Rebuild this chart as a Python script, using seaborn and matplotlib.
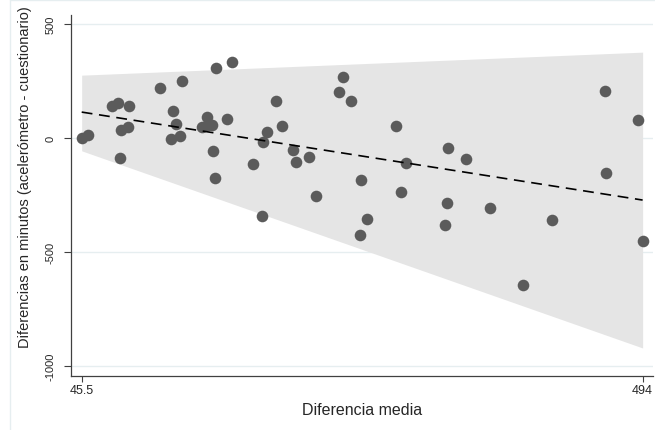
import matplotlib
matplotlib.use("Agg")
import matplotlib.pyplot as plt
from matplotlib.lines import Line2D
import seaborn as sns
import pandas as pd

# ---- data ----
media = [45.5, 50.5, 69.7, 74.5, 83.3, 76.9, 82.5, 76.1, 108.1, 118.5,
         120.9, 116.9, 124.1, 125.7, 152.9, 165.7, 145.7, 141.7, 146.5, 149.7,
         150.5, 152.1, 161.7, 182.5, 189.6, 190.4, 193.6, 200.8, 205.6, 214.4,
         216.8, 227.2, 232.8, 251.2, 254.4, 260.8, 268.8, 268.0, 273.6, 296.8,
         300.8, 304.8, 335.9, 337.5, 338.3, 352.7, 371.9, 398.3, 421.5, 463.9,
         464.7, 490.3, 494.0]
diferencia = [2, 13, 140, 154, 140, 35, 48, -88, 219, 118,
              61, -4, 9, 250, 307, 333, 92, 48, 57, 57,
              -57, -175, 83, -114, -342, -18, 26, 162, 53, -53,
              -105, -83, -254, 202, 268, 162, -184, -425, -355, 53,
              -237, -110, -382, -285, -44, -92, -307, -645, -360, 206,
              -154, 79, -452]

band_x = [45.5, 494.0]
line_y = [114, -272]
upper_y = [276, 377]
lower_y = [-56, -921]

x_ticks = [45.5, 494]
x_tick_labels = ["45.5", "494"]
y_ticks = [-1000, -500, 0, 500]
y_tick_labels = ["-1000", "-500", "0", "500"]

df = pd.DataFrame({"media": media, "diferencia": diferencia})
df_line = pd.DataFrame({"x": band_x, "y": line_y})

sns.set_style("white")
plt.rcParams["font.family"] = ["Liberation Sans", "DejaVu Sans"]

fig = plt.figure(figsize=(6.55, 4.31), dpi=100)
ax = fig.add_axes([71 / 655, 54 / 431, 582 / 655, 361 / 431])

# grid lines (horizontal, light)
for yv in y_ticks:
    ax.axhline(yv, color="#e6eef0", lw=1.0, zorder=0)

ax.fill_between(band_x, lower_y, upper_y, color="#e5e5e5", lw=0, zorder=1)
sns.scatterplot(data=df, x="media", y="diferencia", ax=ax, color="#5b5b5b",
                s=70, linewidth=0, zorder=3, legend=False)
sns.lineplot(data=df_line, x="x", y="y", ax=ax, color="black", lw=1.2,
             dashes=False, zorder=4)
ax.lines[-1].set_dashes([6.5, 4])

ax.set_xlim(36.95, 502.3)
ax.set_ylim(-1044, 540)

ax.set_xticks(x_ticks)
ax.set_xticklabels(x_tick_labels, fontsize=9)
ax.set_yticks(y_ticks)
ax.set_yticklabels(y_tick_labels, fontsize=8, rotation=90, va="center")

for s in ["top", "right"]:
    ax.spines[s].set_visible(False)
for s in ["left", "bottom"]:
    ax.spines[s].set_color("#404040")
    ax.spines[s].set_linewidth(0.9)

ax.tick_params(axis="y", direction="out", length=5, width=0.8, color="#404040", pad=6, left=True)
ax.tick_params(axis="x", direction="out", length=4, width=0.8, color="#404040", pad=2, bottom=True)

ax.set_xlabel("Diferencia media", fontsize=11.5, labelpad=4)
ax.set_ylabel("Diferencias en minutos (acelerómetro - cuestionario)", fontsize=10.5)
ax.yaxis.set_label_coords(-0.067, 0.555)

# outer graph-region frame
fig.add_artist(Line2D([10 / 655, 10 / 655], [0, 1 - 1 / 431], transform=fig.transFigure,
                      color="#e6eef0", lw=1))
fig.add_artist(Line2D([10 / 655, 1], [1 - 1 / 431, 1 - 1 / 431], transform=fig.transFigure,
                      color="#e6eef0", lw=1))

fig.savefig("out.png", dpi=100)
